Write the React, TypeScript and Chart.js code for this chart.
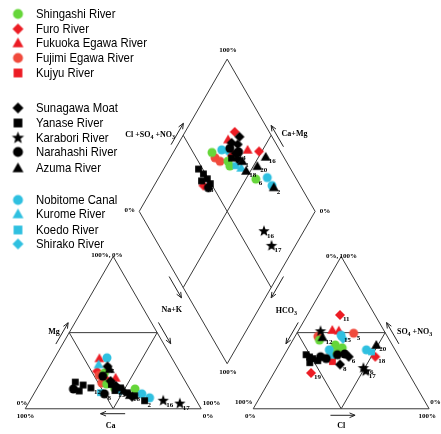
import React, { useEffect, useRef } from 'react';
import { Chart, registerables } from 'chart.js';
Chart.register(...registerables);

// ---------- data (percentages) ----------
// cat: [Mg %, Na+K %, label]   an: [SO4+NO3 %, Cl %, label]   dia: [Ca+Mg %, Cl+SO4+NO3 %, label]
const seriesNames = [
  'Shingashi River', 'Furo River', 'Fukuoka Egawa River', 'Fujimi Egawa River', 'Kujyu River',
  'Sunagawa Moat', 'Yanase River', 'Karabori River', 'Narahashi River', 'Azuma River',
  'Nobitome Canal', 'Kurome River', 'Koedo River', 'Shirako River',
];
const seriesShapes = ['circle', 'diamond', 'triangle', 'circle', 'square', 'diamond', 'square', 'star', 'circle', 'triangle', 'circle', 'triangle', 'square', 'diamond'];
const seriesColors = ['#66d63a', '#ec1c24', '#ec1c24', '#f04a3c', '#ec1c24', '#000000', '#000000', '#000000', '#000000', '#000000', '#2fc0e0', '#2fc0e0', '#2fc0e0', '#2fc0e0'];

type P = [number, number, string];
const shingashi = {
  cat: [[23.5, 33.3, ''], [16.2, 38.2, ''], [13.9, 43.7, ''], [13, 55.9, '']] as P[],
  an: [[45.1, 15.1, ''], [41.9, 25.7, ''], [40, 30.6, ''], [38.7, 29.6, ''], [36.5, 27.5, '']] as P[],
  dia: [[78, 60.7, ''], [66.1, 66.9, ''], [63.4, 66.4, ''], [44.3, 76.9, '6']] as P[],
};
const furo = {
  cat: [[24.6, 28.6, ''], [19.5, 36, '']] as P[],
  an: [[61.6, 18.5, '11'], [34.2, 52.3, '18'], [23.5, 21.1, '19']] as P[],
  dia: [[71.8, 80.4, ''], [51.6, 87.8, ''], [72, 45, '13']] as P[],
};
const fukuoka = {
  cat: [[33.1, 25.6, ''], [20.3, 41.2, '']] as P[],
  an: [[51.7, 19.1, ''], [51.3, 23, '']] as P[],
  dia: [[73.1, 74.1, ''], [58.6, 81.8, '']] as P[],
};
const fujimi = {
  cat: [[22, 31, ''], [17, 35, '']] as P[],
  an: [[49.6, 32.3, '5'], [47.5, 13, '']] as P[],
  dia: [[74.5, 60.7, ''], [70.5, 62.4, '']] as P[],
};
const kujyu = {
  cat: [[18, 38, '']] as P[],
  an: [[31, 29.5, '']] as P[],
  dia: [[67, 71, '']] as P[],
};
const sunagawa = {
  cat: [[27.8, 32.9, '7'], [18.2, 39.4, ''], [7.9, 56.8, ''], [15, 44, '']] as P[],
  an: [[29.1, 34.8, '8'], [34.2, 37.2, '6']] as P[],
  dia: [[67.5, 81.5, ''], [64.3, 73.9, '14'], [61.3, 73.1, ''], [70, 75, ''], [66, 78, '']] as P[],
};
const yanase = {
  cat: [[17.5, 19.7, ''], [15.6, 25.1, ''], [13.7, 30.5, '12'], [11.7, 24.8, ''], [13.7, 47.3, ''], [10.5, 52.7, ''], [5.3, 65.2, '2'], [16, 41, ''], [12, 45, '13'], [8.5, 58, '']] as P[],
  an: [[35.5, 12.3, ''], [32.9, 17.4, ''], [30.3, 17, ''], [31.6, 20.9, ''], [34, 15, '']] as P[],
  dia: [[80.2, 47.6, ''], [75.8, 48.8, ''], [72, 49.4, ''], [68.7, 49.5, ''], [74.6, 45.4, ''], [65, 70, '']] as P[],
};
const karabori = {
  cat: [[5.3, 75.8, '16'], [3.4, 86.2, '17']] as P[],
  an: [[50.9, 12.8, ''], [26.7, 49.3, '16'], [24.6, 51.6, '17']] as P[],
  dia: [[22.6, 64.4, '16'], [13.5, 63.9, '17']] as P[],
};
const narahashi = {
  cat: [[13, 20.9, ''], [21.4, 33.4, ''], [9.8, 40.1, '8']] as P[],
  an: [[34.2, 21.2, ''], [35.5, 30.1, ''], [33, 25, ''], [36, 34, '']] as P[],
  dia: [[68.5, 47.1, ''], [69.2, 72.2, ''], [63, 76, '']] as P[],
};
const azuma = {
  cat: [[26, 35, ''], [12, 50, ''], [9, 55, '18']] as P[],
  an: [[41.9, 49, '20'], [47, 15.9, '12']] as P[],
  dia: [[47.7, 82, '20'], [46, 89.8, '16'], [31.4, 84.4, '2'], [52.5, 74.1, '18'], [58, 75, '1']] as P[],
};
const nobitome = {
  cat: [[33.5, 29.7, ''], [9.8, 61.4, ''], [7.2, 67.1, '']] as P[],
  an: [[48.3, 25.8, '15'], [38.7, 23.9, ''], [38.7, 45, '']] as P[],
  dia: [[73.3, 67.1, ''], [38.3, 83.9, ''], [33, 84, '']] as P[],
};
const kurome = {
  cat: [[29.1, 27.2, '']] as P[],
  an: [[35.5, 26.2, '']] as P[],
  dia: [[56.3, 72.3, '']] as P[],
};
const koedo = {
  cat: [[10.6, 37.5, '']] as P[],
  an: [[37.4, 48.5, '']] as P[],
  dia: [[60, 70, '']] as P[],
};
const shirako = {
  cat: [[12, 48, '']] as P[],
  an: [[46, 28, '']] as P[],
  dia: [[70, 70, '']] as P[],
};
const seriesData = [shingashi, furo, fukuoka, fujimi, kujyu, sunagawa, yanase, karabori, narahashi, azuma, nobitome, kurome, koedo, shirako];
// draw order (later = on top)
const drawOrder = [1, 2, 3, 4, 0, 10, 11, 12, 13, 5, 6, 7, 8, 9];

// ---------- Piper geometry (side = 100 units) ----------
const H = Math.sqrt(3) / 2;
const GAP = 29.6;
const RX = 100 + GAP;
const BX = 100 + GAP / 2;
const BY = (GAP / 2) * Math.sqrt(3);
const catXY = (mg: number, nak: number) => ({ x: nak + mg / 2, y: mg * H });
const anXY = (so4: number, cl: number) => ({ x: RX + cl + so4 / 2, y: so4 * H });
const diaXY = (camg: number, socl: number) => ({ x: BX + (socl - camg) / 2, y: BY + (camg + socl) * H });

function makeMarker(shape: string, color: string, size: number): HTMLCanvasElement {
  const c = document.createElement('canvas');
  const s = Math.ceil(size + 2);
  c.width = s; c.height = s;
  const ctx = c.getContext('2d')!;
  const m = s / 2, r = size / 2;
  ctx.fillStyle = color;
  ctx.beginPath();
  if (shape === 'circle') {
    ctx.arc(m, m, r * 0.9, 0, Math.PI * 2);
  } else if (shape === 'diamond') {
    ctx.moveTo(m, m - r); ctx.lineTo(m + r, m); ctx.lineTo(m, m + r); ctx.lineTo(m - r, m); ctx.closePath();
  } else if (shape === 'triangle') {
    ctx.moveTo(m, m - r); ctx.lineTo(m + r, m + r * 0.75); ctx.lineTo(m - r, m + r * 0.75); ctx.closePath();
  } else if (shape === 'square') {
    const h = r * 0.8; ctx.rect(m - h, m - h, 2 * h, 2 * h);
  } else {
    for (let i = 0; i < 10; i++) {
      const a = -Math.PI / 2 + (i * Math.PI) / 5;
      const rr = i % 2 === 0 ? r : r * 0.42;
      const x = m + rr * Math.cos(a), y = m + rr * Math.sin(a);
      if (i === 0) ctx.moveTo(x, y); else ctx.lineTo(x, y);
    }
    ctx.closePath();
  }
  ctx.fill();
  return c;
}

type Part = [string, boolean];
function drawRich(ctx: CanvasRenderingContext2D, parts: Part[], x: number, y: number, align: string, size: number) {
  const main = `bold ${size}px "Liberation Serif", serif`;
  const sub = `bold ${Math.round(size * 0.7)}px "Liberation Serif", serif`;
  let w = 0;
  parts.forEach(([t, s]) => { ctx.font = s ? sub : main; w += ctx.measureText(t).width; });
  let cx = align === 'left' ? x : align === 'right' ? x - w : x - w / 2;
  ctx.textAlign = 'left';
  ctx.textBaseline = 'middle';
  parts.forEach(([t, s]) => {
    ctx.font = s ? sub : main;
    ctx.fillText(t, cx, s ? y + size * 0.3 : y);
    cx += ctx.measureText(t).width;
  });
}

function makeFramePlugin(legendMarkers: HTMLCanvasElement[]) {
  return {
    id: 'piperFrame',
    beforeDatasetsDraw(chart: any) {
      const ctx: CanvasRenderingContext2D = chart.ctx;
      const X = (v: number) => chart.scales.x.getPixelForValue(v);
      const Y = (v: number) => chart.scales.y.getPixelForValue(v);
      const seg = (a: number[], b: number[]) => { ctx.moveTo(X(a[0]), Y(a[1])); ctx.lineTo(X(b[0]), Y(b[1])); };
      ctx.save();
      ctx.strokeStyle = '#3a3a3a';
      ctx.lineWidth = 1;
      ctx.beginPath();
      seg([0, 0], [100, 0]); seg([100, 0], [50, 100 * H]); seg([50, 100 * H], [0, 0]);
      seg([25, 50 * H], [75, 50 * H]); seg([25, 50 * H], [50, 0]); seg([75, 50 * H], [50, 0]);
      seg([RX, 0], [RX + 100, 0]); seg([RX + 100, 0], [RX + 50, 100 * H]); seg([RX + 50, 100 * H], [RX, 0]);
      seg([RX + 25, 50 * H], [RX + 75, 50 * H]); seg([RX + 25, 50 * H], [RX + 50, 0]); seg([RX + 75, 50 * H], [RX + 50, 0]);
      const B = [BX, BY], L = [BX - 50, BY + 100 * H], R = [BX + 50, BY + 100 * H], T = [BX, BY + 200 * H];
      seg(B, L); seg(L, T); seg(T, R); seg(R, B);
      seg([BX - 25, BY + 50 * H], [BX + 25, BY + 150 * H]);
      seg([BX + 25, BY + 50 * H], [BX - 25, BY + 150 * H]);
      ctx.stroke();

      const arrows: [number, number, number, number][] = [
        [17.4, 36.8, 0.5, H], [75.7, 49.1, 0.5, -H], [81.8, 75.2, 0.5, -H], [56.8, -2.8, -1, 0],
        [146.8, 75.2, -0.5, -H], [155.2, 49.1, -0.5, -H], [212.4, 36.9, -0.5, H], [173.5, -3.7, 1, 0],
        [82.9, 150.2, 0.5, H], [146.8, 149, -0.5, H],
      ];
      ctx.strokeStyle = '#222';
      arrows.forEach(([sx, sy, dx, dy]) => {
        const len = 14;
        const x0 = X(sx), y0 = Y(sy), x1 = X(sx + dx * len), y1 = Y(sy + dy * len);
        const ang = Math.atan2(y1 - y0, x1 - x0);
        ctx.beginPath();
        ctx.moveTo(x0, y0); ctx.lineTo(x1, y1);
        ctx.moveTo(x1, y1); ctx.lineTo(x1 - 6 * Math.cos(ang - 0.4), y1 - 6 * Math.sin(ang - 0.4));
        ctx.moveTo(x1, y1); ctx.lineTo(x1 - 6 * Math.cos(ang + 0.4), y1 - 6 * Math.sin(ang + 0.4));
        ctx.stroke();
      });

      ctx.fillStyle = '#000';
      const texts: [Part[], number, number, string, number][] = [
        [[['100%', false]], 115.2, 204.1, 'center', 7],
        [[['0%', false]], 62.4, 112.9, 'right', 7],
        [[['0%', false]], 167.4, 112.4, 'left', 7],
        [[['100%', false]], 115.2, 20.7, 'center', 7],
        [[['Cl +SO', false], ['4', true], [' +NO', false], ['3', true]], 56.8, 155.7, 'left', 8],
        [[['Ca+Mg', false]], 145.7, 156.3, 'left', 8],
        [[['Na+K', false]], 77.4, 56.3, 'left', 8],
        [[['HCO', false], ['3', true]], 142.4, 55.7, 'left', 8],
        [[['Mg', false]], 19.6, 43.5, 'right', 8],
        [[['SO', false], ['4', true], [' +NO', false], ['3', true]], 211.3, 43.5, 'left', 8],
        [[['100%,', false]], 48.5, 87.4, 'right', 7],
        [[['0%', false]], 49.3, 87.4, 'left', 7],
        [[['0%,', false]], 178, 86.8, 'right', 7],
        [[['100%', false]], 178.6, 86.8, 'left', 7],
        [[['0%', false]], -4.8, 3.2, 'left', 7],
        [[['100%', false]], -4.8, -4.3, 'left', 7],
        [[['100%', false]], 100.9, 3.2, 'left', 7],
        [[['0%', false]], 100.9, -4.3, 'left', 7],
        [[['100%', false]], 129.2, 3.5, 'right', 7],
        [[['0%', false]], 130.9, -4.3, 'right', 7],
        [[['0%', false]], 230.3, 3.5, 'left', 7],
        [[['100%', false]], 233.5, -4.3, 'right', 7],
        [[['Ca', false]], 48.5, -9.5, 'center', 8],
        [[['Cl', false]], 179.6, -9.5, 'center', 8],
      ];
      texts.forEach(([parts, x, y, al, sz]) => drawRich(ctx, parts, X(x), Y(y), al, sz));
      ctx.restore();
    },
    afterDatasetsDraw(chart: any) {
      const ctx: CanvasRenderingContext2D = chart.ctx;
      ctx.save();
      ctx.fillStyle = '#000';
      ctx.font = 'bold 7px "Liberation Serif", serif';
      ctx.textAlign = 'left';
      ctx.textBaseline = 'top';
      chart.data.datasets.forEach((ds: any, i: number) => {
        const meta = chart.getDatasetMeta(i);
        meta.data.forEach((el: any, j: number) => {
          const lab = ds.labels ? ds.labels[j] : '';
          if (lab) ctx.fillText(lab, el.x + 3, el.y + 1);
        });
      });
      ctx.restore();
    },
    afterDraw(chart: any) {
      const ctx: CanvasRenderingContext2D = chart.ctx;
      const ys = [14, 29, 43, 58, 73, 108, 123, 138, 152, 168, 200, 214, 230, 244];
      ctx.save();
      ctx.fillStyle = '#000';
      ctx.font = '13.5px "Liberation Sans", sans-serif';
      ctx.textAlign = 'left';
      ctx.textBaseline = 'middle';
      seriesNames.forEach((n, i) => {
        const img = legendMarkers[i];
        ctx.drawImage(img, 18 - img.width / 2, ys[i] - img.height / 2);
        ctx.save();
        ctx.translate(36, ys[i] + 0.5);
        ctx.scale(0.84, 1);
        ctx.fillText(n, 0, 0);
        ctx.restore();
      });
      ctx.restore();
    },
  };
}

export default function App() {
  const ref = useRef<HTMLCanvasElement>(null);
  useEffect(() => {
    const sizes: Record<string, number> = { circle: 10, diamond: 10, triangle: 10, square: 8.5, star: 12 };
    const legendMarkers = seriesNames.map((_, i) => makeMarker(seriesShapes[i], seriesColors[i], seriesShapes[i] === 'star' ? 13 : 11));
    const datasets = drawOrder.slice().reverse().map((i) => {
      const d = seriesData[i];
      const pts = [
        ...d.cat.map(([a, b, l]) => ({ ...catXY(a, b), l })),
        ...d.an.map(([a, b, l]) => ({ ...anXY(a, b), l })),
        ...d.dia.map(([a, b, l]) => ({ ...diaXY(a, b), l })),
      ];
      return {
        label: seriesNames[i],
        data: pts.map((p) => ({ x: p.x, y: p.y })),
        labels: pts.map((p) => p.l),
        pointStyle: makeMarker(seriesShapes[i], seriesColors[i], sizes[seriesShapes[i]]),
        clip: false,
      };
    });
    const chart: any = new Chart(ref.current!, {
      type: 'scatter',
      data: { datasets: datasets as any },
      options: {
        animation: false,
        responsive: true,
        maintainAspectRatio: false,
        layout: { padding: 0 },
        scales: {
          x: { type: 'linear', display: false, min: -11.5, max: 233.5 },
          y: { type: 'linear', display: false, min: -11.5, max: 229.6 },
        },
        plugins: { legend: { display: false }, tooltip: { enabled: false } },
      },
      plugins: [makeFramePlugin(legendMarkers) as any],
    });
    return () => chart.destroy();
  }, []);
  return (
    <div style={{ position: 'fixed', left: 0, top: 0, width: 441, height: 434, background: '#fff' }}>
      <canvas ref={ref} />
    </div>
  );
}
